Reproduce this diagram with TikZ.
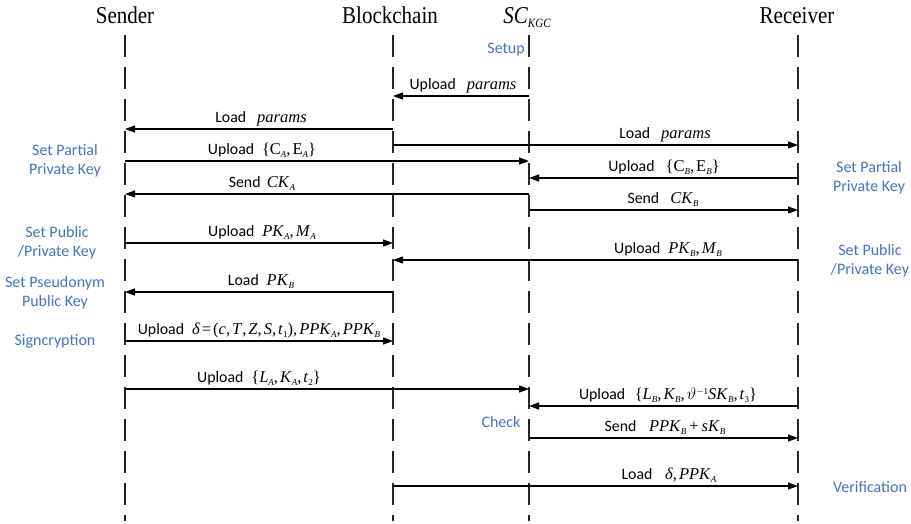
\documentclass[tikz,border=0pt]{standalone}
\usepackage{fix-cm}
\usepackage{graphicx}
\usepackage{fontspec}
\setmainfont{Liberation Serif}
\newfontfamily\labfont{Carlito}
\usetikzlibrary{arrows.meta}
\definecolor{stepblue}{RGB}{68,114,196}
\tikzset{
  life/.style={draw=black!85, line width=1.1pt, dash pattern=on 22pt off 10pt},
  msg/.style={draw=black, line width=1.2pt, -{Triangle[length=10pt,width=7pt]}},
  lbl/.style={anchor=base, font=\labfont\fontsize{15.8}{18}\selectfont, inner sep=0pt},
  side/.style={font=\labfont\fontsize{16}{19}\selectfont, text=stepblue, align=center, inner sep=0pt},
  head/.style={font=\fontsize{21}{24}\selectfont, anchor=base, inner sep=0pt}
}
\newcommand\mth[1]{{\rmfamily\fontsize{16.5}{18}\selectfont #1}}
\newcommand\sbi[1]{\raisebox{-3.5pt}{\fontsize{9}{9}\selectfont\textit{#1}}}
\newcommand\sbu[1]{\raisebox{-3.5pt}{\fontsize{9}{9}\selectfont #1}}
\newcommand\cm{,\kern2pt}
\newcommand\seqmsg[6]{%
  \coordinate (#6s) at (#1 |- 0,#3);
  \coordinate (#6e) at (#2 |- 0,#3);
  \draw[msg] (#6s) -- (#6e);
  \node[lbl] (#6l) at (#4,#3-7) {#5};}
\begin{document}
\begin{tikzpicture}[x=1pt,y=-1pt]
\useasboundingbox (0,0) rectangle (911,523);
% headers
\node[head] (hS) at (125,23) {\scalebox{1}[1.15]{Sender}};
\node[head] (hB) at (390,23) {\scalebox{1}[1.15]{Blockchain}};
\node[head] (hC) at (527,23) {\scalebox{1}[1.15]{\textit{SC}\raisebox{-4pt}{\fontsize{11}{11}\selectfont\textit{KGC}}}};
\node[head] (hR) at (797,23) {\scalebox{1}[1.15]{Receiver}};
% lifelines
\coordinate (S) at (125,35); \coordinate (Sb) at (125,521);
\coordinate (B) at (393,35); \coordinate (Bb) at (393,521);
\coordinate (C) at (529,35); \coordinate (Cb) at (529,521);
\coordinate (R) at (798,35); \coordinate (Rb) at (798,521);
\draw[life] (S) -- (Sb);
\draw[life] (B) -- (Bb);
\draw[life] (C) -- (Cb);
\draw[life] (R) -- (Rb);
% messages
\seqmsg{C}{B}{96}{463}{Upload\hspace{0.7em}\mth{\textit{params}}}{m1}
\seqmsg{B}{S}{129}{261}{Load\hspace{0.7em}\mth{\textit{params}}}{m2}
\seqmsg{B}{R}{145}{665}{Load\hspace{0.7em}\mth{\textit{params}}}{m3}
\seqmsg{S}{C}{161}{262}{Upload\hspace{0.5em}\mth{\{C\sbi{A}\cm E\sbi{A}\}}}{m4}
\seqmsg{R}{C}{178}{664}{Upload\hspace{0.7em}\mth{\{C\sbi{B}\cm E\sbi{B}\}}}{m5}
\seqmsg{C}{S}{194}{262}{Send\hspace{0.4em}\mth{\textit{CK}\sbi{A}}}{m6}
\seqmsg{C}{R}{210}{663}{Send\hspace{0.7em}\mth{\textit{CK}\sbi{B}}}{m7}
\seqmsg{S}{B}{243}{262}{Upload\hspace{0.5em}\mth{\textit{PK}\sbi{A}\cm\textit{M}\sbi{A}}}{m8}
\seqmsg{R}{B}{260}{668}{Upload\hspace{0.5em}\mth{\textit{PK}\sbi{B}\cm\textit{M}\sbi{B}}}{m9}
\seqmsg{B}{S}{292}{261}{Load\hspace{0.5em}\mth{\textit{PK}\sbi{B}}}{m10}
\seqmsg{S}{B}{341}{259}{Upload\hspace{0.5em}\mth{\textit{δ}\kern2pt=\kern2pt(\textit{c}\cm\textit{T}\cm\textit{Z}\cm\textit{S}\cm\textit{t}\sbu{1})\cm\textit{PPK}\sbi{A}\cm\textit{PPK}\sbi{B}}}{m11}
\seqmsg{S}{C}{389}{259}{Upload\hspace{0.5em}\mth{\{\textit{L}\sbi{A}\cm\textit{K}\sbi{A}\cm\textit{t}\sbu{2}\}}}{m12}
\seqmsg{R}{C}{406}{668}{Upload\hspace{0.6em}\mth{\{\textit{L}\sbi{B}\cm\textit{K}\sbi{B}\cm$\vartheta$\raisebox{5pt}{\fontsize{9}{9}\selectfont$-$1}\textit{SK}\sbi{B}\cm\textit{t}\sbu{3}\}}}{m13}
\seqmsg{C}{R}{438}{665}{Send\hspace{0.8em}\mth{\textit{PPK}\sbi{B}\kern3pt+\kern3pt\textit{sK}\sbi{B}}}{m14}
\seqmsg{B}{R}{486}{669}{Load\hspace{0.8em}\mth{\textit{δ}\cm\textit{PPK}\sbi{A}}}{m15}
% phase labels
\node[side, anchor=east] (setup) at (525,50) {Setup};
\node[side] (ppkL) at (65,161) {Set Partial\\Private Key};
\node[side] (ppkR) at (869,178) {Set Partial\\Private Key};
\node[side] (pubL) at (57,243) {Set Public\\/Private Key};
\node[side] (pubR) at (870,261) {Set Public\\/Private Key};
\node[side] (pseu) at (55,293) {Set Pseudonym\\Public Key};
\node[side] (sign) at (55,341) {Signcryption};
\node[side] (check) at (501,422) {Check};
\node[side] (verif) at (870,487) {Verification};
\end{tikzpicture}
\end{document}
